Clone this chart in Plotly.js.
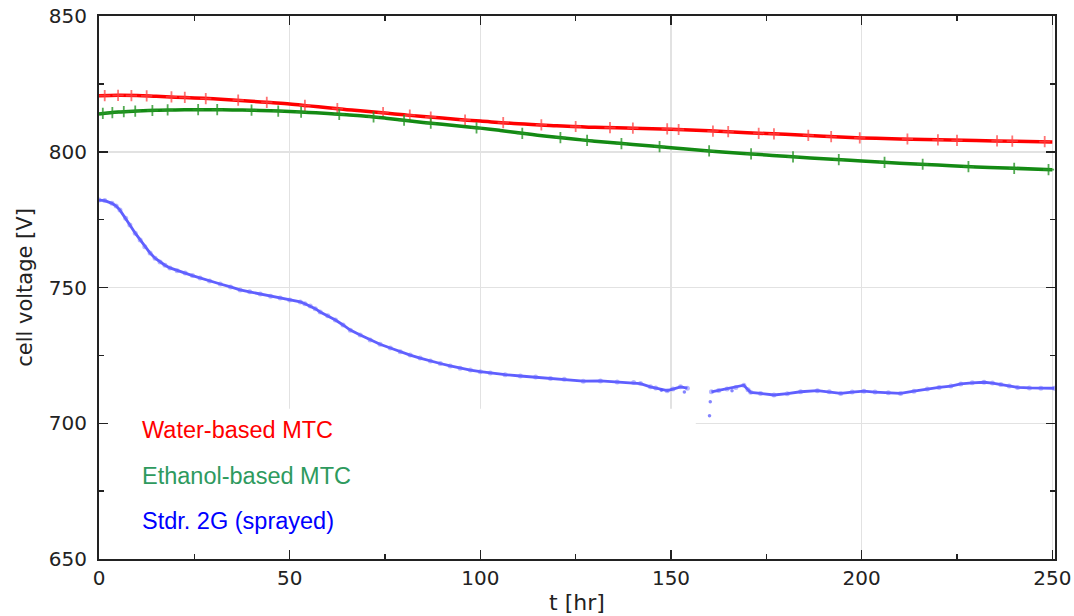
<!DOCTYPE html>
<html>
<head>
<meta charset="utf-8">
<script src="https://cdn.plot.ly/plotly-3.0.1.min.js"></script>
<style>html,body{margin:0;padding:0;background:#fff;}#chart{width:1074px;height:616px;}</style>
</head>
<body>
<div id="chart"></div>
<script>
// Water-based MTC (smoothed line)
const redT = [0,5,10,15,20,25,30,35,40,45,50,55,60,65,70,75,80,85,90,95,100,110,120,130,140,150,160,170,180,190,200,210,220,230,240,250];
const redV = [820.6,820.8,820.7,820.4,820.1,819.8,819.5,819.1,818.6,818.1,817.6,816.9,816.2,815.5,814.9,814.3,813.6,813.0,812.4,811.8,811.3,810.3,809.6,809.0,808.7,808.3,807.7,807.0,806.4,805.7,805.1,804.7,804.4,804.1,803.9,803.6];
// Water-based MTC (markers)
const redMarkT = [1.5,5,8.5,12.5,19,22.5,28,36.5,44,54,62.5,74.5,81.5,87,96,106,116,125,134,140,149,152,161,165,173,177,186,192,199.5,212,220,225,235.5,239.5,248];
const redMarkV = [820.7,820.8,820.7,820.6,820.2,820.0,819.6,819.0,818.2,817.1,815.9,814.4,813.5,812.8,811.7,810.7,809.9,809.3,808.9,808.7,808.4,808.2,807.6,807.4,806.8,806.6,806.0,805.6,805.1,804.7,804.4,804.2,804.0,803.9,803.7];

// Ethanol-based MTC (smoothed line)
const greenT = [0,5,10,15,20,25,30,35,40,45,50,55,60,65,70,75,80,85,90,95,100,105,110,115,120,125,130,140,150,160,170,175,180,190,200,210,220,230,240,250];
const greenV = [813.9,814.6,815.0,815.3,815.4,815.5,815.5,815.4,815.3,815.1,814.8,814.5,814.1,813.6,813.1,812.4,811.6,810.8,810.1,809.4,808.7,807.9,807.0,806.1,805.3,804.6,803.9,802.7,801.5,800.3,799.3,798.8,798.3,797.4,796.6,795.8,795.1,794.4,793.9,793.4];
// Ethanol-based MTC (markers)
const greenMarkT = [1,3.5,6.5,9.5,14,18,26,31,40,47,53,63,72,80,87,99,111,121,128,137,147,160,171,182,194,206,216,228,240,249];
const greenMarkV = [814.1,814.4,814.8,815.0,815.2,815.4,815.5,815.5,815.3,815.0,814.6,813.8,812.8,811.6,810.5,808.8,806.8,805.2,804.2,803.0,801.9,800.3,799.2,798.1,797.1,796.1,795.4,794.5,793.9,793.4];

// Stdr. 2G (sprayed)
const blueT = [0,1.5,3.4,4.5,5.5,7,8.1,9.5,10.8,12,13.4,14.7,16,17.3,18.6,20.5,22.6,24.5,26.5,29,31.8,34.5,37,39.5,42.3,45,47.5,50,52.8,54,55.4,56.7,58,60,62,64,65.9,68.5,71.1,73.7,76.4,79,81.6,84.2,86.9,89.5,92.1,94.7,97.4,100,102.6,106.5,110.5,114.5,118.4,122,127,131.5,135.9,140.2,142,144.6,146,149,150.5,152.5,154.3,157,160.6,162.5,164.7,167,169.1,170.2,170.9,173.5,177,180.5,184,188.4,191.5,194.5,197.5,200.6,203.5,207,210.2,213.7,217.2,220.3,223.4,226,229,232.1,234.3,236.5,238.7,240.9,244,247,250.5];
const blueV = [782.2,782.0,781.0,780.0,778.5,775.5,773.0,770.0,767.5,765.0,762.7,760.8,759.4,758.2,757.2,756.2,755.3,754.4,753.5,752.4,751.3,750.2,749.1,748.4,747.6,746.8,746.1,745.4,744.7,744.0,743.2,742.2,741.0,739.6,738.0,736.2,734.3,732.5,730.7,729.1,727.7,726.3,725.1,724.0,722.9,722.0,721.1,720.3,719.6,719.0,718.5,717.9,717.4,717.0,716.5,716.2,715.5,715.6,715.2,715.0,714.6,713.4,713.0,712.0,712.6,713.4,712.9,null,711.6,712.1,712.6,713.2,714.0,712.3,711.4,711.0,710.4,710.9,711.6,712.0,711.6,711.0,711.5,711.8,711.5,711.2,711.0,711.8,712.6,713.2,713.7,714.5,714.9,715.1,714.8,714.3,713.7,713.2,713.0,712.9,712.9];
const blueOutT = [160.1,160.3,147.5,153.5,166];
const blueOutV = [702.8,707.9,712.2,711.5,712.0];

const seriesNames = ['Water-based MTC','Ethanol-based MTC','Stdr. 2G (sprayed)'];
const seriesColors = ['#ff0000','#2e9a5e','#0000ff'];
const legendY = [697.5,680.6,664.0];

const xTicks = [0,50,100,150,200,250];
const yTicks = [650,700,750,800,850];

const traces = [
  {x: redT, y: redV, mode:'lines', line:{color:'#ff0000', width:3.5, shape:'spline'}, showlegend:false, hoverinfo:'skip'},
  {x: redMarkT, y: redMarkV, mode:'markers', marker:{symbol:'cross-thin', size:8, line:{color:'rgba(255,70,70,0.75)', width:1.8}}, showlegend:false, name: seriesNames[0]},
  {x: greenT, y: greenV, mode:'lines', line:{color:'#138a13', width:3.5, shape:'spline'}, showlegend:false, hoverinfo:'skip'},
  {x: greenMarkT, y: greenMarkV, mode:'markers', marker:{symbol:'cross-thin', size:8, line:{color:'rgba(40,150,40,0.8)', width:1.8}}, showlegend:false, name: seriesNames[1]},
  {x: blueT, y: blueV, mode:'lines+markers', line:{color:'rgba(55,55,255,0.8)', width:2.8}, marker:{size:5, color:'rgba(100,100,255,0.45)'}, connectgaps:false, showlegend:false, name: seriesNames[2]},
  {x: blueOutT, y: blueOutV, mode:'markers', marker:{size:3.5, color:'rgba(80,80,255,0.7)'}, showlegend:false, hoverinfo:'skip'}
];

const annotations = seriesNames.map((n,i)=>({
  x: 10.8, y: legendY[i], xref:'x', yref:'y', text:n, showarrow:false, xanchor:'left', yanchor:'middle',
  font:{family:'Liberation Sans, Arial, sans-serif', size:23.5, color:seriesColors[i]}
}));

const axisCommon = {
  showline:true, linecolor:'#222', linewidth:2, mirror:'allticks',
  ticks:'inside', ticklen:9, tickwidth:1.5, tickcolor:'#222',
  showgrid:true, gridcolor:'#e2e2e2', gridwidth:1.5, zeroline:false,
  tickfont:{family:'DejaVu Sans, sans-serif', size:20, color:'#222'}
};

const layout = {
  width:1074, height:616,
  margin:{l:99, r:19, t:16, b:57},
  paper_bgcolor:'#fff', plot_bgcolor:'#fff',
  xaxis: Object.assign({}, axisCommon, {
    range:[0,250.7], tickvals:xTicks, ticktext:xTicks.map(String),
    minor:{dtick:25, tick0:0, ticks:'inside', ticklen:5, tickcolor:'#222', showgrid:false},
    title:{text:'t [hr]', font:{family:'DejaVu Sans, sans-serif', size:22, color:'#222'}, standoff:6}
  }),
  yaxis: Object.assign({}, axisCommon, {
    range:[650,850], tickvals:yTicks, ticktext:yTicks.map(String),
    minor:{dtick:25, tick0:650, ticks:'inside', ticklen:5, tickcolor:'#222', showgrid:false},
    ticklabelstandoff:6,
    title:{text:'cell voltage [V]', font:{family:'DejaVu Sans, sans-serif', size:21, color:'#222'}, standoff:10}
  }),
  shapes:[{type:'rect', xref:'x', yref:'y', x0:0, x1:156.5, y0:650, y1:705.3, fillcolor:'#fff', line:{width:0}, layer:'between'}],
  annotations: annotations
};

Plotly.newPlot('chart', traces, layout, {displayModeBar:false, staticPlot:true});
</script>
</body>
</html>
